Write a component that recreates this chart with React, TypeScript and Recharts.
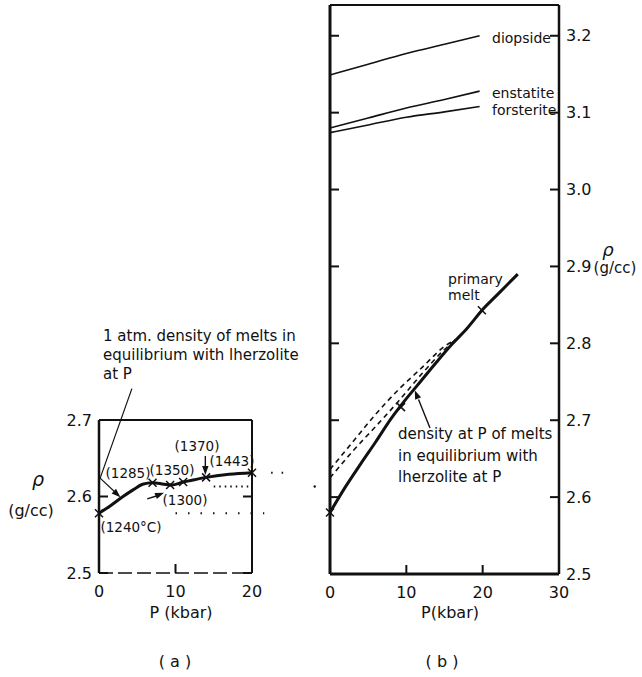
import React from 'react';
import { ComposedChart, Line, XAxis, YAxis, ReferenceLine, ReferenceDot } from 'recharts';

const FONT = '"DejaVu Sans", sans-serif';
const INK = '#111';

// (a) 1 atm density of melts in equilibrium with lherzolite at P
const pressureA = [0, 1.5, 3, 4.5, 5.7, 7, 8.5, 9.5, 11, 12.5, 14, 17, 20];
const densityA = [2.578, 2.588, 2.599, 2.609, 2.616, 2.618, 2.616, 2.615, 2.619, 2.622, 2.625, 2.629, 2.631];
const markPressureA = [0, 7, 9.3, 11, 14, 20];
const markDensityA = [2.578, 2.618, 2.615, 2.619, 2.625, 2.631];
const ticksPA = [0, 10, 20];
const ticksRhoA = [2.5, 2.6, 2.7];

// (b) minerals
const pressureMin = [0, 5, 10, 15, 19.6];
const diopside = [3.149, 3.163, 3.177, 3.189, 3.2];
const enstatite = [3.08, 3.093, 3.106, 3.117, 3.128];
const forsterite = [3.074, 3.084, 3.094, 3.101, 3.108];

// (b) primary melt
const pressureMelt = [0, 2, 4, 6, 8, 10, 12, 14, 16, 18, 20, 22, 24.6];
const densityMelt = [2.58, 2.613, 2.643, 2.672, 2.702, 2.728, 2.752, 2.776, 2.799, 2.82, 2.844, 2.864, 2.89];
const markPressureB = [0, 9.3, 19.9];
const markDensityB = [2.58, 2.717, 2.843];

// (b) dashed: density at P of melts in equilibrium with lherzolite at P
const pressureDash = [0, 3, 6, 9, 12, 15, 16.5];
const densityDashUpper = [2.636, 2.672, 2.708, 2.74, 2.768, 2.796, 2.805];
const densityDashLower = [2.625, 2.66, 2.692, 2.725, 2.76, 2.792, 2.805];

const ticksPB = [0, 10, 20, 30];
const ticksRhoB = [2.5, 2.6, 2.7, 2.8, 2.9, 3.0, 3.1, 3.2];

const domPA: [number, number] = [0, 20];
const domRhoA: [number, number] = [2.5, 2.7];
const domPB: [number, number] = [0, 30];
const domRhoB: [number, number] = [2.5, 3.24];

const zip = (ps: number[], vs: number[]) => ps.map((p, i) => ({ p, rho: vs[i] }));

const XMark = (props: any) => {
  const { cx, cy, index } = props;
  if (cx == null || cy == null) return <g key={index} />;
  const s = 4;
  return (
    <path
      key={index}
      d={`M${cx - s},${cy - s}L${cx + s},${cy + s}M${cx - s},${cy + s}L${cx + s},${cy - s}`}
      stroke={INK}
      strokeWidth={1.5}
      fill="none"
    />
  );
};

// filled arrow head, tip at the point, pointing along deg (screen angle)
const arrowHead = (deg: number) => (props: any) => {
  const { cx, cy } = props;
  const a = (deg * Math.PI) / 180;
  const L = 9;
  const W = 3.2;
  const bx = cx - L * Math.cos(a);
  const by = cy - L * Math.sin(a);
  const px = -Math.sin(a) * W;
  const py = Math.cos(a) * W;
  return <polygon points={`${cx},${cy} ${bx + px},${by + py} ${bx - px},${by - py}`} fill={INK} />;
};

// tick label plus a short tick mark pointing into the frame
const tickLabel = (side: string, label = true, fmt = (v: number) => String(v)) => (props: any) => {
  const { x, y, payload } = props;
  const tp = { fill: INK, fontSize: 16, fontFamily: FONT };
  const txt = label ? fmt(payload.value) : '';
  const T = 9;
  if (side === 'left')
    return (
      <g>
        <line x1={x} y1={y} x2={x + T} y2={y} stroke={INK} strokeWidth={2} />
        {label && <text x={x - 7} y={y} textAnchor="end" dominantBaseline="central" {...tp}>{txt}</text>}
      </g>
    );
  if (side === 'right')
    return (
      <g>
        <line x1={x} y1={y} x2={x - T} y2={y} stroke={INK} strokeWidth={2} />
        {label && <text x={x + 7} y={y} textAnchor="start" dominantBaseline="central" {...tp}>{txt}</text>}
      </g>
    );
  if (side === 'top')
    return (
      <g>
        <line x1={x} y1={y} x2={x} y2={y + T} stroke={INK} strokeWidth={2} />
      </g>
    );
  return (
    <g>
      <line x1={x} y1={y} x2={x} y2={y - T} stroke={INK} strokeWidth={2} />
      {label && <text x={x} y={y + 24} textAnchor="middle" {...tp}>{txt}</text>}
    </g>
  );
};

const fmt1 = (v: number) => v.toFixed(1);

const Txt = ({ x, y, size = 15, start = false, italic = false, children }: any) => (
  <div
    style={{
      position: 'absolute',
      left: x,
      top: y,
      transform: `translate(${start ? '0' : '-50%'}, -50%)`,
      fontSize: size,
      lineHeight: 0.9,
      whiteSpace: 'nowrap',
      fontFamily: FONT,
      fontStyle: italic ? 'italic' : 'normal',
      color: INK,
    }}
  >
    {children}
  </div>
);

const axisCommon = { type: 'number' as const, interval: 0, tickSize: 0, tickMargin: 0, tickLine: false };

const PanelA = () => (
  <ComposedChart width={330} height={677} margin={{ top: 418, right: 76, bottom: 74, left: 59 }}>
    <XAxis {...axisCommon} xAxisId="b" dataKey="p" domain={domPA} ticks={ticksPA} height={30} tick={tickLabel('bottom', true)} axisLine={{ stroke: INK, strokeWidth: 1.5, strokeDasharray: '14 5' }} />
    <XAxis {...axisCommon} xAxisId="t" orientation="top" domain={domPA} allowDataOverflow ticks={ticksPA} height={2} tick={tickLabel('top', false)} axisLine={{ stroke: INK, strokeWidth: 2 }} />
    <YAxis {...axisCommon} yAxisId="l" dataKey="rho" domain={domRhoA} ticks={ticksRhoA} width={40} tick={tickLabel('left', true, fmt1)} axisLine={{ stroke: INK, strokeWidth: 2.5 }} />
    <YAxis {...axisCommon} yAxisId="r" orientation="right" domain={domRhoA} allowDataOverflow ticks={ticksRhoA} width={2} tick={tickLabel('right', false)} axisLine={{ stroke: INK, strokeWidth: 2 }} />

    {/* dotted tie lines toward panel (b) */}
    <ReferenceLine xAxisId="b" yAxisId="l" ifOverflow="visible" segment={[{ x: 10, y: 2.578 }, { x: 21.6, y: 2.578 }]} stroke={INK} strokeWidth={2} strokeDasharray="1.5 11" />
    <ReferenceLine xAxisId="b" yAxisId="l" ifOverflow="visible" segment={[{ x: 15, y: 2.613 }, { x: 20, y: 2.613 }]} stroke={INK} strokeWidth={2} strokeDasharray="1.5 4" />
    <ReferenceLine xAxisId="b" yAxisId="l" ifOverflow="visible" segment={[{ x: 22.5, y: 2.631 }, { x: 24.5, y: 2.631 }]} stroke={INK} strokeWidth={2} strokeDasharray="1.5 9" />
    <ReferenceDot xAxisId="b" yAxisId="l" ifOverflow="visible" x={28.2} y={2.613} r={1.2} fill={INK} stroke="none" />

    {/* leader from the note to the curve */}
    <ReferenceLine xAxisId="b" yAxisId="l" ifOverflow="visible" segment={[{ x: 4.3, y: 2.741 }, { x: 0.15, y: 2.624 }]} stroke={INK} strokeWidth={1.2} />
    <ReferenceLine xAxisId="b" yAxisId="l" ifOverflow="visible" segment={[{ x: 0.15, y: 2.624 }, { x: 2.6, y: 2.601 }]} stroke={INK} strokeWidth={1.2} />
    <ReferenceDot xAxisId="b" yAxisId="l" ifOverflow="visible" x={2.8} y={2.599} r={0} shape={arrowHead(43)} />

    {/* (1370) arrow */}
    <ReferenceLine xAxisId="b" yAxisId="l" ifOverflow="visible" segment={[{ x: 13.9, y: 2.653 }, { x: 13.9, y: 2.636 }]} stroke={INK} strokeWidth={1.4} />
    <ReferenceDot xAxisId="b" yAxisId="l" ifOverflow="visible" x={13.9} y={2.628} r={0} shape={arrowHead(90)} />
    {/* (1300) arrow */}
    <ReferenceLine xAxisId="b" yAxisId="l" ifOverflow="visible" segment={[{ x: 6.3, y: 2.597 }, { x: 7.6, y: 2.601 }]} stroke={INK} strokeWidth={1.4} />
    <ReferenceDot xAxisId="b" yAxisId="l" ifOverflow="visible" x={8.5} y={2.605} r={0} shape={arrowHead(-22)} />

    <Line xAxisId="b" yAxisId="l" data={zip(pressureA, densityA)} dataKey="rho" type="monotone" stroke={INK} strokeWidth={3} dot={false} activeDot={false} isAnimationActive={false} />
    <Line xAxisId="b" yAxisId="l" data={zip(markPressureA, markDensityA)} dataKey="rho" stroke="none" dot={XMark} activeDot={false} isAnimationActive={false} />
  </ComposedChart>
);

const PanelB = () => (
  <ComposedChart width={642} height={677} margin={{ top: 3, right: 23, bottom: 73, left: 328 }}>
    <XAxis {...axisCommon} xAxisId="b" dataKey="p" domain={domPB} ticks={ticksPB} height={30} tick={tickLabel('bottom', true)} axisLine={{ stroke: INK, strokeWidth: 3 }} />
    <XAxis {...axisCommon} xAxisId="t" orientation="top" domain={domPB} allowDataOverflow ticks={ticksPB} height={2} tick={tickLabel('top', false)} axisLine={{ stroke: INK, strokeWidth: 2 }} />
    <YAxis {...axisCommon} yAxisId="l" dataKey="rho" domain={domRhoB} ticks={ticksRhoB} width={2} tick={tickLabel('left', false)} axisLine={{ stroke: INK, strokeWidth: 3 }} />
    <YAxis {...axisCommon} yAxisId="r" orientation="right" domain={domRhoB} allowDataOverflow ticks={ticksRhoB} width={60} tick={tickLabel('right', true, fmt1)} axisLine={{ stroke: INK, strokeWidth: 2.5 }} />

    {/* arrow to the melt curve */}
    <ReferenceLine xAxisId="b" yAxisId="l" segment={[{ x: 13.1, y: 2.69 }, { x: 11.6, y: 2.727 }]} stroke={INK} strokeWidth={1.4} />
    <ReferenceDot xAxisId="b" yAxisId="l" x={11.1} y={2.739} r={0} shape={arrowHead(-112)} />

    <Line xAxisId="b" yAxisId="l" data={zip(pressureMin, diopside)} dataKey="rho" type="monotone" stroke={INK} strokeWidth={1.6} dot={false} activeDot={false} isAnimationActive={false} />
    <Line xAxisId="b" yAxisId="l" data={zip(pressureMin, enstatite)} dataKey="rho" type="monotone" stroke={INK} strokeWidth={1.6} dot={false} activeDot={false} isAnimationActive={false} />
    <Line xAxisId="b" yAxisId="l" data={zip(pressureMin, forsterite)} dataKey="rho" type="monotone" stroke={INK} strokeWidth={1.6} dot={false} activeDot={false} isAnimationActive={false} />
    <Line xAxisId="b" yAxisId="l" data={zip(pressureDash, densityDashUpper)} dataKey="rho" type="monotone" stroke={INK} strokeWidth={1.6} strokeDasharray="5 4" dot={false} activeDot={false} isAnimationActive={false} />
    <Line xAxisId="b" yAxisId="l" data={zip(pressureDash, densityDashLower)} dataKey="rho" type="monotone" stroke={INK} strokeWidth={1.6} strokeDasharray="5 4" dot={false} activeDot={false} isAnimationActive={false} />
    <Line xAxisId="b" yAxisId="l" data={zip(pressureMelt, densityMelt)} dataKey="rho" type="monotone" stroke={INK} strokeWidth={3} dot={false} activeDot={false} isAnimationActive={false} />
    <Line xAxisId="b" yAxisId="l" data={zip(markPressureB, markDensityB)} dataKey="rho" stroke="none" dot={XMark} activeDot={false} isAnimationActive={false} />
  </ComposedChart>
);

export default function App() {
  return (
    <div style={{ position: 'absolute', left: 0, top: 0, width: 642, height: 677, background: '#fff', overflow: 'hidden', fontFamily: FONT }}>
      <div style={{ position: 'absolute', left: 0, top: 0 }}>
        <PanelA />
      </div>
      <div style={{ position: 'absolute', left: 0, top: 0 }}>
        <PanelB />
      </div>

      {/* panel (a) text */}
      <Txt x={103} y={337} start>1 atm. density of melts in</Txt>
      <Txt x={103} y={356} start>equilibrium with lherzolite</Txt>
      <Txt x={103} y={375} start>at P</Txt>
      <Txt x={128} y={473} size={13.5}>(1285)</Txt>
      <Txt x={172} y={470} size={13.5}>(1350)</Txt>
      <Txt x={185} y={500} size={13.5}>(1300)</Txt>
      <Txt x={197} y={446} size={13.5}>(1370)</Txt>
      <Txt x={232} y={461} size={13.5}>(1443)</Txt>
      <Txt x={131} y={527} size={13.5}>(1240°C)</Txt>
      <Txt x={38} y={480} size={19} italic>ρ</Txt>
      <Txt x={31} y={511} size={16}>(g/cc)</Txt>
      <Txt x={181} y={613} size={16}>P (kbar)</Txt>
      <Txt x={175} y={662} size={16}>( a )</Txt>

      {/* panel (b) text */}
      <Txt x={492} y={38} size={14} start>diopside</Txt>
      <Txt x={492} y={93} size={14} start>enstatite</Txt>
      <Txt x={492} y={110} size={14} start>forsterite</Txt>
      <Txt x={448} y={279} size={14} start>primary</Txt>
      <Txt x={448} y={295} size={14} start>melt</Txt>
      <Txt x={398} y={435} start>density at P of melts</Txt>
      <Txt x={398} y={457} start>in equilibrium with</Txt>
      <Txt x={398} y={478} start>lherzolite at P</Txt>
      <Txt x={608} y={250} size={18} italic>ρ</Txt>
      <Txt x={615} y={269} size={15}>(g/cc)</Txt>
      <Txt x={450} y={613} size={16}>P(kbar)</Txt>
      <Txt x={442} y={662} size={16}>( b )</Txt>
    </div>
  );
}
